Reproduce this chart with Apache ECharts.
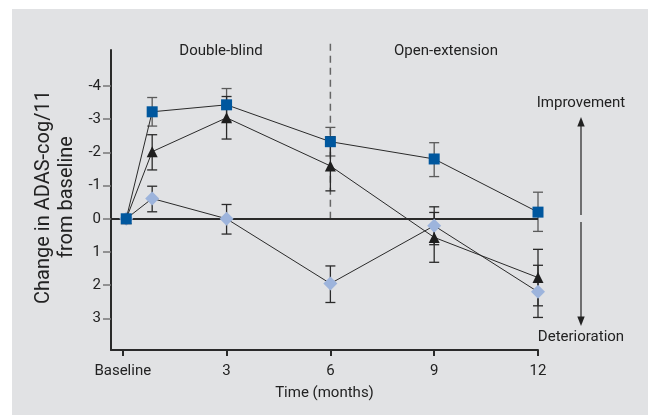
<!DOCTYPE html>
<html><head><meta charset="utf-8">
<script src="https://cdn.jsdelivr.net/npm/echarts@6/dist/echarts.min.js"></script>
<style>html,body{margin:0;padding:0;background:#fff}#c{width:648px;height:415px}</style>
</head><body><div id="c"></div>
<script>
// ---- data ----
const months = [0.1, 0.85, 3, 6, 9, 12];
const xTicks = [0, 3, 6, 9, 12];
const xTickLabels = ['Baseline', '3', '6', '9', '12'];
const yTicks = [-4, -3, -2, -1, 0, 1, 2, 3];

const squareVals = [0, -3.22, -3.43, -2.32, -1.80, -0.20];
const squareLow  = [null, -3.65, -3.92, -2.75, -2.29, -0.80];
const squareHigh = [null, -2.79, -2.94, -1.89, -1.27, 0.38];

const triVals = [0, -2.02, -3.04, -1.59, 0.56, 1.77];
const triLow  = [null, -2.53, -3.68, -2.47, -0.19, 0.92];
const triHigh = [null, -1.47, -2.40, -0.84, 1.31, 2.62];

const diaVals = [0, -0.61, 0, 1.95, 0.21, 2.20];
const diaLow  = [null, -0.98, -0.43, 1.42, -0.36, 1.40];
const diaHigh = [null, -0.21, 0.46, 2.52, 0.78, 2.97];

const phaseSplit = 6;
const phaseLineTop = -5.3;

// ---- chart ----
const FONT = 'Roboto';
const chart = echarts.init(document.getElementById('c'), null, {renderer: 'canvas'});

function pts(vals) { return vals.map((v, i) => [months[i], v]); }
function errData(low, high) {
  const out = [];
  low.forEach((l, i) => { if (l !== null) out.push([months[i], l, high[i]]); });
  return out;
}
function errSeries(low, high, color) {
  return {
    type: 'custom', z: 2, silent: true,
    renderItem: function (params, api) {
      const x = api.value(0);
      const p1 = api.coord([x, api.value(1)]);
      const p2 = api.coord([x, api.value(2)]);
      const hw = 5;
      const st = {stroke: color, lineWidth: 1.3};
      return {type: 'group', children: [
        {type: 'line', shape: {x1: p1[0], y1: p1[1], x2: p2[0], y2: p2[1]}, style: st},
        {type: 'line', shape: {x1: p1[0]-hw, y1: p1[1], x2: p1[0]+hw, y2: p1[1]}, style: st},
        {type: 'line', shape: {x1: p2[0]-hw, y1: p2[1], x2: p2[0]+hw, y2: p2[1]}, style: st}
      ]};
    },
    encode: {x: 0, y: [1, 2]},
    data: errData(low, high)
  };
}
function lineSeries(vals, symbol, size, color, z) {
  return {
    type: 'line', z: z, data: pts(vals), symbol: symbol, symbolSize: size,
    lineStyle: {color: '#2a2a2a', width: 1},
    itemStyle: {color: color, borderWidth: 0, opacity: 1},
    silent: true
  };
}

const option = {
  animation: false,
  backgroundColor: '#ffffff',
  graphic: [
    {type: 'rect', z: -10, shape: {x: 12, y: 9, width: 636, height: 406}, style: {fill: '#e1e2e4'}},
    {type: 'text', style: {text: 'Double-blind', x: 221, y: 51, align: 'center', verticalAlign: 'middle', font: '15px ' + FONT, fill: '#222'}},
    {type: 'text', style: {text: 'Open-extension', x: 446, y: 51, align: 'center', verticalAlign: 'middle', font: '15px ' + FONT, fill: '#222'}},
    {type: 'text', style: {text: 'Improvement', x: 581, y: 103, align: 'center', verticalAlign: 'middle', font: '15px ' + FONT, fill: '#222'}},
    {type: 'text', style: {text: 'Deterioration', x: 581, y: 337, align: 'center', verticalAlign: 'middle', font: '15px ' + FONT, fill: '#222'}},
    {type: 'text', x: 55, y: 197, rotation: Math.PI / 2,
      style: {text: 'Change in ADAS-cog/11\nfrom baseline', x: 0, y: 0, align: 'center', verticalAlign: 'middle',
        font: '20px ' + FONT, lineHeight: 23, fill: '#222'}},
    {type: 'line', shape: {x1: 581, y1: 124, x2: 581, y2: 215}, style: {stroke: '#222', lineWidth: 1.2}},
    {type: 'line', shape: {x1: 581, y1: 222, x2: 581, y2: 318}, style: {stroke: '#222', lineWidth: 1.2}},
    {type: 'polygon', shape: {points: [[581, 117], [577.3, 126.5], [584.7, 126.5]]}, style: {fill: '#222'}},
    {type: 'polygon', shape: {points: [[581, 326], [577.3, 316.5], [584.7, 316.5]]}, style: {fill: '#222'}}
  ],
  grid: {left: 111, right: 110, top: 50, bottom: 65, containLabel: false},
  xAxis: {
    type: 'value', min: -0.34, max: 12,
    name: 'Time (months)', nameLocation: 'middle', nameGap: 36,
    nameTextStyle: {fontFamily: FONT, fontSize: 15, color: '#222'},
    axisLine: {show: true, onZero: false, lineStyle: {color: '#2a2a2a', width: 2}},
    axisTick: {show: true, length: 6, lineStyle: {color: '#2a2a2a', width: 2}, customValues: xTicks},
    axisLabel: {fontFamily: FONT, fontSize: 15, color: '#222', margin: 14, customValues: xTicks,
      formatter: v => { const i = xTicks.indexOf(v); return i >= 0 ? xTickLabels[i] : ''; }},
    splitLine: {show: false}
  },
  yAxis: {
    type: 'value', inverse: true, min: -5.08, max: 3.95,
    axisLine: {show: true, onZero: false, lineStyle: {color: '#2a2a2a', width: 2}},
    axisTick: {show: true, length: 8, lineStyle: {color: '#777', width: 1.5}, customValues: yTicks},
    axisLabel: {fontFamily: FONT, fontSize: 15, color: '#222', margin: 10, customValues: yTicks,
      formatter: v => String(v)},
    splitLine: {show: false}
  },
  series: [
    {
      type: 'line', data: [], z: 1, silent: true,
      markLine: {
        silent: true, symbol: 'none', animation: false, label: {show: false},
        data: [
          [{coord: [-0.34, 0], lineStyle: {color: '#2a2a2a', width: 2, type: 'solid'}}, {coord: [12, 0]}]
        ]
      }
    },
    {
      type: 'custom', z: 1, silent: true,
      renderItem: function (params, api) {
        const a = api.coord([api.value(0), api.value(1)]);
        const b = api.coord([api.value(0), api.value(2)]);
        return {type: 'line', shape: {x1: a[0], y1: a[1], x2: b[0], y2: b[1]},
          style: {stroke: '#666', lineWidth: 1.5, lineDash: [7, 5]}};
      },
      encode: {x: 0, y: [1, 2]},
      data: [[phaseSplit, 0, phaseLineTop]]
    },
    errSeries(squareLow, squareHigh, '#5a5a5a'),
    errSeries(triLow, triHigh, '#2a2a2a'),
    errSeries(diaLow, diaHigh, '#2a2a2a'),
    lineSeries(diaVals, 'diamond', 14, '#9db4dc', 5),
    lineSeries(triVals, 'triangle', 11, '#1e1e1e', 6),
    lineSeries(squareVals, 'rect', 11, '#00579e', 7)
  ]
};
chart.setOption(option);
</script>
</body></html>
